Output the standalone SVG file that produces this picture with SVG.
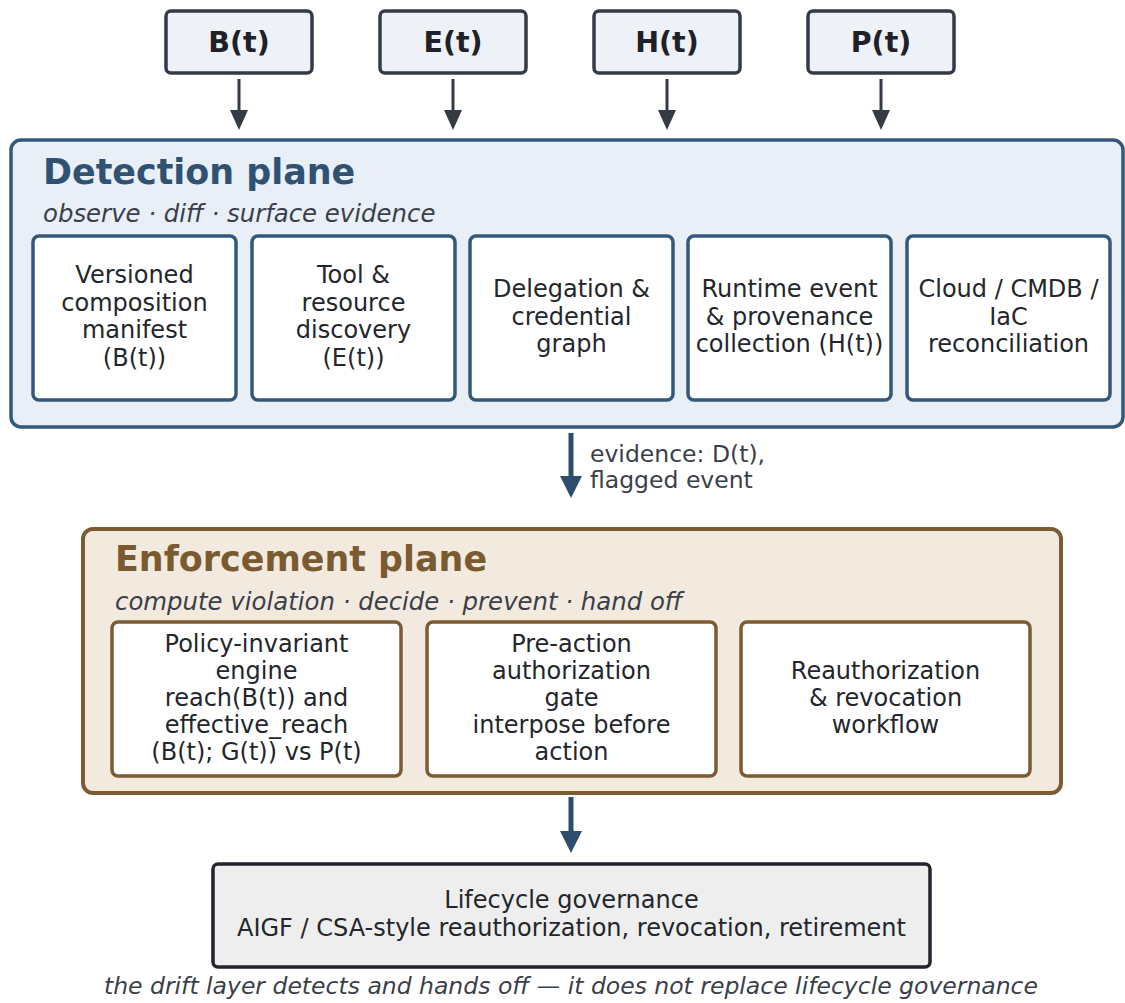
<svg xmlns="http://www.w3.org/2000/svg" width="1125" height="1003" viewBox="0 0 1125 1003">
<defs>
<style>
text{font-family:"DejaVu Sans","Noto Sans",sans-serif;}
.top rect{fill:#eef1f6;stroke:#343a46;stroke-width:3.5;}
.top text{font-size:28.5px;font-weight:bold;fill:#1e2127;text-anchor:middle;}
.det{fill:#e8eff7;stroke:#34587a;stroke-width:3.5;}
.dbox{fill:#ffffff;stroke:#34587a;stroke-width:3.5;}
.enf{fill:#f3eadf;stroke:#7b5b32;stroke-width:4;}
.ebox{fill:#ffffff;stroke:#7b5b32;stroke-width:3.5;}
.life{fill:#eeeeee;stroke:#22252b;stroke-width:3.5;}
.body{font-size:24px;fill:#23262c;text-anchor:middle;}
.title{font-size:34.9px;font-weight:bold;}
.sub{font-size:24.4px;font-style:italic;fill:#3a3f4a;}
.lbl{font-size:23.5px;fill:#3a3f4a;}
.thin{stroke:#343a46;stroke-width:3;fill:none;}
.thick{stroke:#2c4d6e;stroke-width:5;fill:none;}
</style>
<marker id="ah" markerUnits="userSpaceOnUse" viewBox="0 0 20 18" refX="0" refY="9" markerWidth="20" markerHeight="18" orient="auto">
<path d="M0,0 L20,9 L0,18 Z" fill="#343a46"/>
</marker>
<marker id="ahb" markerUnits="userSpaceOnUse" viewBox="0 0 22 22" refX="0" refY="11" markerWidth="22" markerHeight="22" orient="auto">
<path d="M0,0 L22,11 L0,22 Z" fill="#2c4d6e"/>
</marker>
</defs>
<rect width="1125" height="1003" fill="#ffffff"/>

<g id="input-B" class="top"><rect x="166" y="11" width="146" height="62" rx="5"/><text x="239" y="52">B(t)</text></g>
<g id="input-E" class="top"><rect x="380" y="11" width="146" height="62" rx="5"/><text x="453" y="52">E(t)</text></g>
<g id="input-H" class="top"><rect x="594" y="11" width="146" height="62" rx="5"/><text x="667" y="52">H(t)</text></g>
<g id="input-P" class="top"><rect x="808" y="11" width="146" height="62" rx="5"/><text x="881" y="52">P(t)</text></g>

<g id="detection-plane">
<rect class="det" x="11" y="140" width="1112" height="287" rx="10"/>
<text class="title" x="43" y="184" fill="#2f5272">Detection plane</text>
<text class="sub" x="43" y="221.5">observe · diff · surface evidence</text>
</g>
<g id="det-manifest"><rect class="dbox" x="33" y="236" width="203" height="164" rx="6"/>
<text class="body" x="134.5" y="283">Versioned</text><text class="body" x="134.5" y="310.5">composition</text><text class="body" x="134.5" y="338">manifest</text><text class="body" x="134.5" y="365.5">(B(t))</text></g>
<g id="det-discovery"><rect class="dbox" x="252" y="236" width="203" height="164" rx="6"/>
<text class="body" x="353.5" y="283">Tool &amp;</text><text class="body" x="353.5" y="310.5">resource</text><text class="body" x="353.5" y="338">discovery</text><text class="body" x="353.5" y="365.5">(E(t))</text></g>
<g id="det-delegation"><rect class="dbox" x="470" y="236" width="203" height="164" rx="6"/>
<text class="body" x="571.5" y="297">Delegation &amp;</text><text class="body" x="571.5" y="324.5">credential</text><text class="body" x="571.5" y="352">graph</text></g>
<g id="det-runtime"><rect class="dbox" x="688" y="236" width="203" height="164" rx="6"/>
<text class="body" x="789.5" y="297">Runtime event</text><text class="body" x="789.5" y="324.5">&amp; provenance</text><text class="body" x="789.5" y="352">collection (H(t))</text></g>
<g id="det-cloud"><rect class="dbox" x="907" y="236" width="203" height="164" rx="6"/>
<text class="body" x="1008.5" y="297">Cloud / CMDB /</text><text class="body" x="1008.5" y="324.5">IaC</text><text class="body" x="1008.5" y="352">reconciliation</text></g>

<g id="enforcement-plane">
<rect class="enf" x="83" y="529" width="978" height="264" rx="10"/>
<text class="title" x="115" y="571" fill="#7a5a30">Enforcement plane</text>
<text class="sub" x="115" y="610">compute violation · decide · prevent · hand off</text>
</g>
<g id="enf-policy"><rect class="ebox" x="112" y="622" width="289" height="154" rx="6"/>
<text class="body" x="256.5" y="652">Policy-invariant</text><text class="body" x="256.5" y="679">engine</text><text class="body" x="256.5" y="706">reach(B(t)) and</text><text class="body" x="256.5" y="733">effective_reach</text><text class="body" x="256.5" y="760">(B(t); G(t)) vs P(t)</text></g>
<g id="enf-gate"><rect class="ebox" x="427" y="622" width="289" height="154" rx="6"/>
<text class="body" x="571.5" y="652">Pre-action</text><text class="body" x="571.5" y="679">authorization</text><text class="body" x="571.5" y="706">gate</text><text class="body" x="571.5" y="733">interpose before</text><text class="body" x="571.5" y="760">action</text></g>
<g id="enf-reauth"><rect class="ebox" x="741" y="622" width="289" height="154" rx="6"/>
<text class="body" x="885.5" y="679">Reauthorization</text><text class="body" x="885.5" y="706">&amp; revocation</text><text class="body" x="885.5" y="733">workflow</text></g>

<g id="lifecycle"><rect class="life" x="213" y="864" width="717" height="103" rx="5"/>
<text class="body" x="571.5" y="908">Lifecycle governance</text><text class="body" x="571.5" y="936">AIGF / CSA-style reauthorization, revocation, retirement</text></g>

<g id="connectors">
<line class="thin" x1="239" y1="79" x2="239" y2="110" marker-end="url(#ah)"/>
<line class="thin" x1="453" y1="79" x2="453" y2="110" marker-end="url(#ah)"/>
<line class="thin" x1="667" y1="79" x2="667" y2="110" marker-end="url(#ah)"/>
<line class="thin" x1="881" y1="79" x2="881" y2="110" marker-end="url(#ah)"/>
<line class="thick" x1="571" y1="433" x2="571" y2="476" marker-end="url(#ahb)"/>
<text class="lbl" x="590" y="462">evidence: D(t),</text>
<text class="lbl" x="590" y="488">flagged event</text>
<line class="thick" x1="571" y1="797" x2="571" y2="831" marker-end="url(#ahb)"/>
</g>

<text class="sub" x="571" y="994" text-anchor="middle" style="font-size:23.5px">the drift layer detects and hands off — it does not replace lifecycle governance</text>
</svg>
